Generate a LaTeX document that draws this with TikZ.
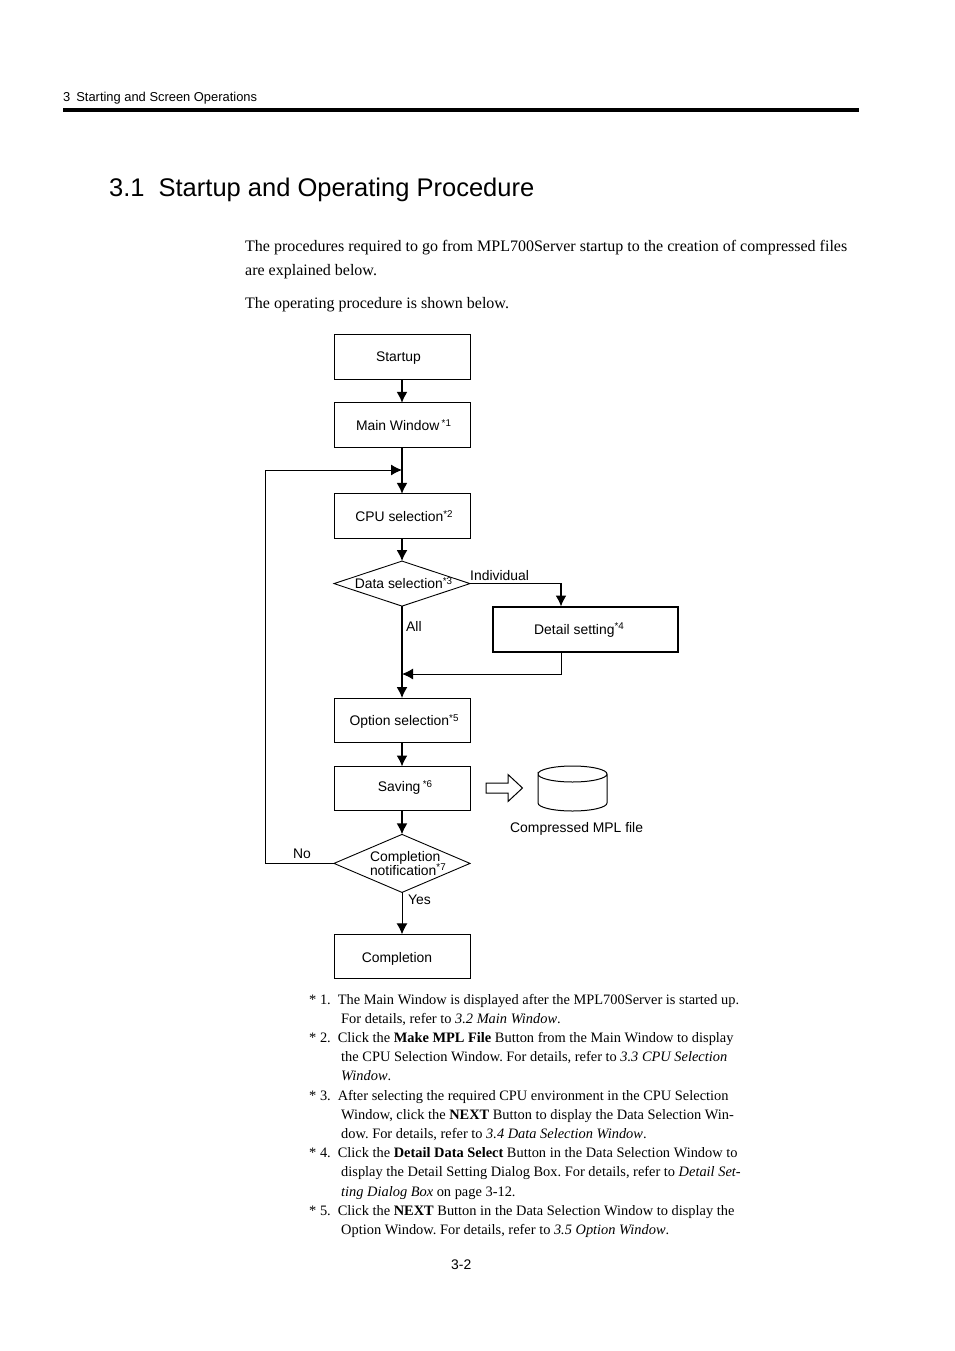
\documentclass[tikz,border=0pt]{standalone}
\usepackage{fontspec}
\setmainfont{Liberation Serif}
\setsansfont{Liberation Sans}
\frenchspacing
\usetikzlibrary{positioning,shapes.geometric,arrows.meta}
\newcommand{\noteref}[1]{\raisebox{4.5pt}[0pt][0pt]{\fontsize{9.8}{10}\selectfont *#1}}
\newcommand{\fixline}[1]{\makebox[64pt][l]{#1}}

\begin{document}
\begin{tikzpicture}[
x=1pt,y=-1pt,
plain/.style={
  draw=none,
  fill=none,
  inner sep=0,
  anchor=base west
  },
flowbox/.style={
  draw,
  line width=0.9pt,
  minimum width=136pt,
  minimum height=44.2pt,
  inner sep=0,
  outer sep=0,
  text height=13.6pt,
  text depth=2.4pt,
  font=\sffamily\fontsize{13.9}{15}\selectfont
  },
choice/.style={
  draw,
  diamond,
  line width=0.9pt,
  inner sep=0,
  outer sep=0,
  align=left,
  font=\sffamily\fontsize{13.9}{12.4}\selectfont
  },
tag/.style={
  plain,
  font=\sffamily\fontsize{13.9}{15}\selectfont
  },
body/.style={
  plain,
  font=\fontsize{16}{19}\selectfont
  },
notes/.style={
  plain,
  font=\fontsize{14.4}{19}\selectfont
  },
flow/.style={->,line width=1.7pt},
flowthin/.style={->,line width=1pt},
>={Latex[length=11pt,width=11pt]}]
\useasboundingbox (0,0) rectangle (954,1351);

% page head
\node[tag,font=\sffamily\fontsize{12.9}{15}\selectfont] (chapter) at (63,101.5) {3\hspace{6pt}Starting and Screen Operations};
\coordinate (ruleL) at (63,109.7);
\coordinate (ruleR) at (859,109.7);
\draw[line width=4pt] (ruleL) -- (ruleR);
\node[plain,font=\sffamily\fontsize{25.5}{30}\selectfont] (title) at (109,196.5) {3.1\hspace{14pt}Startup and Operating Procedure};
\node[body] (intro1) at (245,251) {The procedures required to go from MPL700Server startup to the creation of compressed files};
\node[body] (intro2) at (245,275) {are explained below.};
\node[body] (intro3) at (245,308) {The operating procedure is shown below.};

% flow chart
\node[flowbox,text height=12pt] (startup) at (402,357) {Startup\kern7pt};
\node[flowbox,below=23.8pt of startup] (mainwin) {\kern3pt Main Window\,\noteref{1}};
\node[flowbox,below=46.8pt of mainwin] (cpusel) {\kern4pt CPU selection\noteref{2}};
\node[choice,shape aspect=3,minimum width=136pt,minimum height=45pt,below=23pt of cpusel] (datasel) {\kern3pt Data selection\noteref{3}};
\node[flowbox,line width=1.3pt,minimum width=185pt,minimum height=45pt,text height=12pt] (detail) at (585.5,629.5) {Detail setting\noteref{4}\kern13pt};
\node[flowbox,below=92pt of datasel] (optsel) {\kern4pt Option selection\noteref{5}};
\node[flowbox,below=24.2pt of optsel,text height=9pt,text depth=3pt] (saving) {\kern6pt Saving\,\noteref{6}};
\node[choice,shape aspect=2.34,minimum width=136pt,minimum height=58pt,below=23.7pt of saving] (compnote) {\fixline{Completion}\\\fixline{notification\noteref{7}}};
\node[flowbox,below=41.9pt of compnote,text height=14pt,text depth=2pt] (finish) {Completion\kern10pt};

\coordinate (merge) at (402,470);
\coordinate (loopL) at (265,470);
\coordinate (rejoin) at (402,674);
\coordinate (detailin) at (561,606.5);
\coordinate (detailout) at (561,652);

\draw[flow] (startup) -- (mainwin);
\draw[flow] (mainwin) -- (cpusel);
\draw[flow] (cpusel) -- (datasel);
\draw[flow] (datasel) -- (optsel);
\draw[flow] (optsel) -- (saving);
\draw[flow] (saving) -- (compnote);
\draw[flowthin] (compnote) -- (finish);
\draw[flow] (datasel.east) -| (detailin);
\draw[flowthin] (detailout) |- (rejoin);
\draw[flowthin] (compnote.west) -| (loopL) -- (merge);

\node[tag] (individual) at (470,580) {Individual};
\node[tag] (allcase) at (406,631) {All};
\node[tag] (nocase) at (293,858) {No};
\node[tag] (yescase) at (408,904) {Yes};

% output file
\node[tag] (mplfile) at (510,832) {Compressed MPL file};
\coordinate (saveA) at (486,783);
\draw[line width=1pt,line join=miter] (saveA) -- (508,783) -- (508,774.5) -- (522.5,788) -- (508,801.5) -- (508,793) -- (486,793) -- cycle;
\coordinate (diskT) at (538,774);
\draw[line width=1pt] (diskT) arc[start angle=180,end angle=-180,x radius=34.5pt,y radius=8pt] -- (538,803) arc[start angle=180,end angle=360,x radius=34.5pt,y radius=8pt] -- (607,774);

% notes
\foreach \nx/\ntext [count=\ni] in {
  309/{* 1.\hspace{7pt}The Main Window is displayed after the MPL700Server is started up.},
  341/{For details, refer to \textit{3.2 Main Window}.},
  309/{* 2.\hspace{7pt}Click the \textbf{Make MPL File} Button from the Main Window to display},
  341/{the CPU Selection Window. For details, refer to \textit{3.3 CPU Selection}},
  341/{\textit{Window}.},
  309/{* 3.\hspace{7pt}After selecting the required CPU environment in the CPU Selection},
  341/{Window, click the \textbf{NEXT} Button to display the Data Selection Win-},
  341/{dow. For details, refer to \textit{3.4 Data Selection Window}.},
  309/{* 4.\hspace{7pt}Click the \textbf{Detail Data Select} Button in the Data Selection Window to},
  341/{display the Detail Setting Dialog Box. For details, refer to \textit{Detail Set-}},
  341/{\textit{ting Dialog Box} on page 3-12.},
  309/{* 5.\hspace{7pt}Click the \textbf{NEXT} Button in the Data Selection Window to display the},
  341/{Option Window. For details, refer to \textit{3.5 Option Window}.}}
  \node[notes] (note-\ni) at (\nx,{1004+(\ni-1)*19.2}) {\ntext};

\node[tag] (pageno) at (451,1269) {3-2};
\end{tikzpicture}
\end{document}
